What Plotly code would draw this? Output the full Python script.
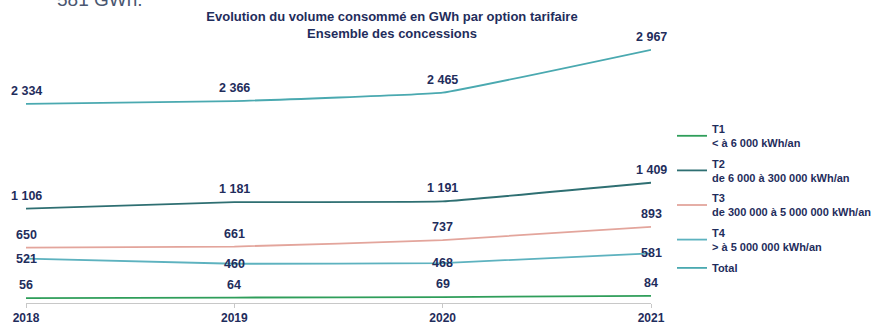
import plotly.graph_objects as go

years = [2018, 2019, 2020, 2021]
t1 = [56, 64, 69, 84]
t2 = [1106, 1181, 1191, 1409]
t3 = [650, 661, 737, 893]
t4 = [521, 460, 468, 581]
total = [2334, 2366, 2465, 2967]

series = [
    ("T1<br>&lt; à 6 000 kWh/an", t1, "#2f9e5a", 13),
    ("T2<br>de 6 000 à 300 000 kWh/an", t2, "#2e6f72", 13),
    ("T3<br>de 300 000 à 5 000 000 kWh/an", t3, "#e3a59c", 13),
    ("T4<br>&gt; à 5 000 000 kWh/an", t4, "#5db2bf", 0),
    ("Total", total, "#4aa9b0", 13),
]

NAVY = "#1f2d5c"
FONT = "Liberation Sans"

W, H = 894, 325
ML, MR, MT, MB = 26, 243, 47, 22
PH = H - MT - MB
PW = W - ML - MR


def fmt(v):
    return f"{v:,}".replace(",", " ")


fig = go.Figure()
annotations = []
for i, (name, vals, color, shift) in enumerate(series):
    fig.add_trace(go.Scatter(
        x=years, y=vals, name=f"<b>{name}</b>", mode="lines",
        legendgroup=f"g{i}",
        line=dict(color=color, width=1.8, shape="spline", smoothing=0.25),
        hoverinfo="skip",
    ))
    for x, v in zip(years, vals):
        annotations.append(dict(
            x=x, y=v, xref="x", yref="y", text=f"<b>{fmt(v)}</b>",
            showarrow=False, yshift=shift,
            font=dict(family=FONT, size=12.5, color=NAVY),
        ))

# clipped line of text from the preceding paragraph
annotations.append(dict(
    x=(55 - ML) / PW, y=1 + (MT - 12) / PH, xref="paper", yref="paper",
    xanchor="left", yanchor="bottom",
    text="581 GWh.", showarrow=False,
    font=dict(family=FONT, size=19, color="#4a5670"),
))

fig.update_layout(
    width=W, height=H,
    margin=dict(l=ML, r=MR, t=MT, b=MB, autoexpand=False),
    paper_bgcolor="white", plot_bgcolor="white",
    title=dict(
        text="<b>Evolution du volume consommé en GWh par option tarifaire<br>Ensemble des concessions</b>",
        x=392 / W, xanchor="center", y=1 - 21 / H, yanchor="top",
        font=dict(family=FONT, size=13, color=NAVY),
    ),
    xaxis=dict(
        range=[2018, 2021], tickvals=years,
        ticktext=[f"<b>{y}</b>" for y in years],
        showgrid=False, zeroline=False, automargin=False,
        showline=True, linecolor="#c8c8c8", linewidth=1,
        ticks="outside", ticklen=4, tickcolor="#c8c8c8",
        tickfont=dict(family=FONT, size=12, color=NAVY),
    ),
    yaxis=dict(range=[0, 3000], visible=False, automargin=False),
    legend=dict(
        x=672 / W, xref="container", xanchor="left",
        y=1 - 115 / H, yref="container", yanchor="top",
        font=dict(family=FONT, size=11, color=NAVY),
        itemwidth=30, tracegroupgap=3, bgcolor="rgba(0,0,0,0)",
        maxheight=300,
    ),
    annotations=annotations,
    showlegend=True,
)

fig.write_html("out.html")
